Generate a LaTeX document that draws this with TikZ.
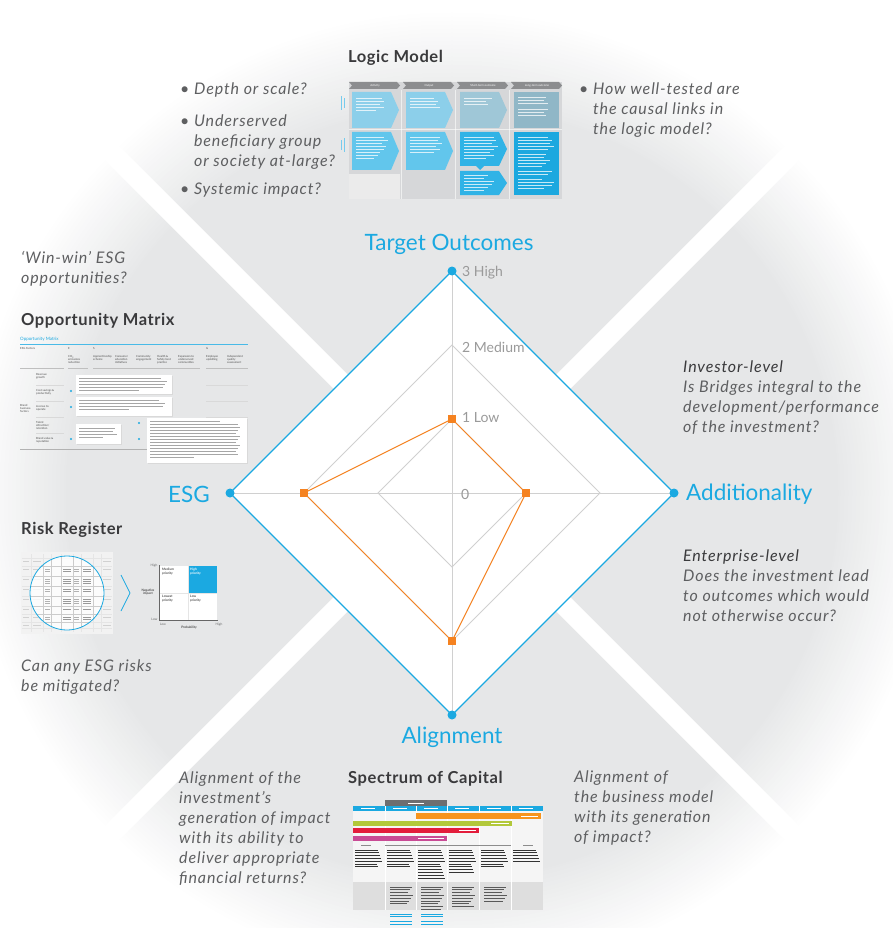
\documentclass[tikz,border=0pt]{standalone}
\usepackage{fontspec}
\setmainfont{Lato}
\newfontfamily\qfont[LetterSpace=5.5]{Lato}
\newfontfamily\hfont[LetterSpace=3.5]{Lato}
\usetikzlibrary{calc}
\definecolor{bggray}{HTML}{E6E7E8}
\definecolor{cyanb}{HTML}{1BA9E1}
\definecolor{orng}{HTML}{F58220}
\definecolor{gridg}{HTML}{D0D0D0}
\definecolor{qtext}{HTML}{5E5F61}
\definecolor{headtxt}{HTML}{3A3A3C}
\definecolor{scaletxt}{HTML}{9A9A9A}
\definecolor{lmbg}{HTML}{D6D7D9}
\definecolor{lmhead}{HTML}{8C8D8F}
\definecolor{lmra}{HTML}{8CCFEA}
\definecolor{lmrc}{HTML}{9FC7D7}
\definecolor{lmrd}{HTML}{90B7C7}
\definecolor{lmsa}{HTML}{62C6EC}
\definecolor{lmsc}{HTML}{30B3E6}
\definecolor{lmsd}{HTML}{1CA8DF}
\definecolor{spor}{HTML}{F7941D}
\definecolor{spgr}{HTML}{B2C83A}
\definecolor{spred}{HTML}{E31D3C}
\definecolor{spmag}{HTML}{C94B95}
\definecolor{spdark}{HTML}{6D6E70}
\begin{document}
\begin{tikzpicture}[x=1pt,y=-1pt,
  every node/.style={inner sep=0pt},
  question/.style={anchor=north west, align=left, font=\fontsize{16}{20}\qfont\itshape, text=qtext},
  heading/.style={anchor=west, font=\fontsize{16.5}{18}\hfont\bfseries, text=headtxt},
  axislabel/.style={font=\fontsize{22.5}{26}\selectfont, text=cyanb},
  scalelabel/.style={anchor=west, font=\fontsize{14}{16}\selectfont, text=scaletxt},
  gridline/.style={draw=gridg, line width=1pt},
  oline/.style={draw=orng, line width=1pt},
  bline/.style={draw=cyanb, line width=1.2pt},
  osq/.style={rectangle, fill=orng, minimum size=8.5pt},
  bdot/.style={circle, fill=cyanb, minimum size=9pt},
  tiny/.style={anchor=north west, align=left, font=\fontsize{2.8}{3.2}\selectfont, text=black!70},
  lmtxt/.style={white, line width=0.55pt, opacity=0.75},
  omtxt/.style={black!35, line width=0.45pt},
  sptxt/.style={black!80, line width=0.6pt},
  shadowbox/.style={fill=black!15},
]
\useasboundingbox (0,0) rectangle (892,928);
\fill[white] (0,0) rectangle (892,928);
% soft grey disc
\foreach \k in {0,...,24}{
  \pgfmathtruncatemacro\pc{4*\k}
  \pgfmathsetmacro\rr{484-4*\k}
  \fill[bggray!\pc!white] (452,493) circle (\rr pt);
}
\fill[bggray] (452,493) circle (386pt);
% white X stripes
\draw[white, line width=20pt] (-68,-27) -- (972,1013);
\draw[white, line width=20pt] (972,-27) -- (-68,1013);

% ---------------- radar ----------------
\coordinate (vT) at (452,271);
\coordinate (vR) at (674,493);
\coordinate (vB) at (452,715);
\coordinate (vL) at (230,493);
\coordinate (aT) at (452,419); \coordinate (aR) at (526,493);
\coordinate (aB) at (452,567); \coordinate (aL) at (378,493);
\coordinate (bT) at (452,345); \coordinate (bR) at (600,493);
\coordinate (bB) at (452,641); \coordinate (bL) at (304,493);
\fill[white] (vT) -- (vR) -- (vB) -- (vL) -- cycle;
\draw[gridline] (aT) -- (aR) -- (aB) -- (aL) -- cycle;
\draw[gridline] (bT) -- (bR) -- (bB) -- (bL) -- cycle;
\draw[gridline] (vT) -- (vB);
\draw[gridline] (vL) -- (vR);
\draw[oline] (aT) -- (aR) -- (bB) -- (bL) -- cycle;
\draw[bline] (vT) -- (vR) -- (vB) -- (vL) -- cycle;
\node[osq] (dT) at (aT) {};
\node[osq] (dR) at (aR) {};
\node[osq] (dB) at (bB) {};
\node[osq] (dL) at (bL) {};
\node[bdot] (nT) at (vT) {};
\node[bdot] (nR) at (vR) {};
\node[bdot] (nB) at (vB) {};
\node[bdot] (nL) at (vL) {};

\node[axislabel] (lT) at (449,244) {Target Outcomes};
\node[axislabel, anchor=east] (lL) at (210,494) {ESG};
\node[axislabel, anchor=west] (lR) at (686,494) {Additionality};
\node[axislabel] (lB) at (452,737) {Alignment};

\node[scalelabel] (s3) at (462,273) {3 High};
\node[scalelabel] (s2) at (462,347) {2 Medium};
\node[scalelabel] (s1) at (462,418) {1 Low};
\node[scalelabel] (s0) at (461,494) {0};

% ---------------- headings ----------------
\node[heading] (hLM) at (348,58) {Logic Model};
\node[heading] (hOM) at (21,321) {Opportunity Matrix};
\node[heading] (hRR) at (21,530) {Risk Register};
\node[heading] (hSC) at (348,779) {Spectrum of Capital};

% ---------------- questions ----------------
\node[question] (q1) at (180,83) {\textbullet\ Depth or scale?};
\node[question] (q2) at (180,115) {\textbullet\ Underserved\\\hphantom{\textbullet\ }beneficiary group\\\hphantom{\textbullet\ }or society at-large?};
\node[question] (q3) at (180,183) {\textbullet\ Systemic impact?};
\node[question] (q4) at (579,83) {\textbullet\ How well-tested are\\\hphantom{\textbullet\ }the causal links in\\\hphantom{\textbullet\ }the logic model?};
\node[question] (q5) at (21,251) {‘Win-win’ ESG\\opportunities?};
\node[question] (q6) at (21,660) {Can any ESG risks\\be mitigated?};
\node[question] (q7) at (683,361) {{\color{headtxt}Investor-level}\\Is Bridges integral to the\\development/performance\\of the investment?};
\node[question] (q8) at (683,550) {{\color{headtxt}Enterprise-level}\\Does the investment lead\\to outcomes which would\\not otherwise occur?};
\node[question] (q9) at (179,772) {Alignment of the\\investment’s\\generation of impact\\with its ability to\\deliver appropriate\\financial returns?};
\node[question] (q10) at (574,771) {Alignment of\\the business model\\with its generation\\of impact?};

% ---------------- Logic Model thumbnail ----------------
\begin{scope}[shift={(349,82)}]
  \fill[lmbg] (0,0) rectangle (213,117);
  \fill[black!8] (0,92) rectangle (51,117);
  \foreach \xx in {52.5,106.5,160.5} \draw[white, opacity=0.6, line width=1pt] (\xx,8) -- (\xx,117);
  \draw[white, opacity=0.6, line width=1pt] (0,48) -- (213,48);
  \foreach \xx/\tt in {0/Activity,54/Output,108/Short-term outcome,162/Long-term outcome}{
    \fill[lmhead] (\xx,0) -- ++(48,0) -- ++(3,3.5) -- ++(-3,3.5) -- ++(-48,0) -- ++(3,-3.5) -- cycle;
    \node[font=\fontsize{2.8}{3}\selectfont, text=white] at ({\xx+26},3.5) {\tt};
  }
  \foreach \xx/\cc in {0/lmra,54/lmra,108/lmrc}{
    \fill[\cc] ({\xx+3},10) -- ({\xx+42},10) -- ({\xx+50},28) -- ({\xx+42},46) -- ({\xx+3},46) -- cycle;
  }
  \fill[lmrd] (165,10) rectangle (210,46);
  \foreach \xx in {0,54}{
    \fill[lmsa] ({\xx+3},50) -- ({\xx+42},50) -- ({\xx+50},69) -- ({\xx+42},88) -- ({\xx+3},88) -- cycle;
  }
  \fill[lmsc] (111,50) -- (150,50) -- (158,67) -- (150,84) -- (111,84) -- cycle;
  \fill[lmsc] (127,84) -- (135,84) -- (131,88) -- cycle;
  \fill[lmsc] (111,89) -- (150,89) -- (158,101) -- (150,113) -- (111,113) -- cycle;
  \fill[lmsd] (165,50) rectangle (210,113);
  % text strokes
  \foreach \yy/\ll in {16/26,19/28,22/24,25/28,28/20}{\draw[lmtxt] (7,\yy) -- ++(\ll,0);}
  \foreach \yy/\ll in {16/24,19/28,22/26,25/30}{\draw[lmtxt] (61,\yy) -- ++(\ll,0);}
  \foreach \yy/\ll in {16/28,19/22,22/24}{\draw[lmtxt] (115,\yy) -- ++(\ll,0);}
  \foreach \yy/\ll in {15/28,18/26,21/30,27/30,30/26,33/28}{\draw[lmtxt] (169,\yy) -- ++(\ll,0);}
  \foreach \yy/\ll in {55/28,58/32,61/26,64/30,67/28,70/24,73/22,76/18}{\draw[lmtxt] (7,\yy) -- ++(\ll,0);}
  \foreach \yy/\ll in {55/30,58/28,61/32,64/26,67/30,70/24}{\draw[lmtxt] (61,\yy) -- ++(\ll,0);}
  \foreach \yy/\ll in {55/30,58/32,61/28,64/34,67/30,70/26,73/30,76/22}{\draw[lmtxt] (115,\yy) -- ++(\ll,0);}
  \foreach \yy/\ll in {93/24,96/20,99/30,102/28,105/24,108/20}{\draw[lmtxt] (115,\yy) -- ++(\ll,0);}
  \foreach \yy/\ll in {55/30,58/34,61/32,64/36,67/30,72/28,75/26,78/32,81/28,84/24,89/34,92/30,97/24,100/36,103/34,106/26}{\draw[lmtxt] (169,\yy) -- ++(\ll,0);}
  \fill[cyanb!60] (-8,14) rectangle (-6.8,28);
  \fill[cyanb!60] (-5.5,16) rectangle (-4.3,26);
  \fill[cyanb!60] (-8,58) rectangle (-6.8,68);
  \fill[cyanb!60] (-5.5,56) rectangle (-4.3,70);
\end{scope}

% ---------------- Opportunity Matrix thumbnail ----------------
\begin{scope}[shift={(20,336)}]
  \node[anchor=west, font=\fontsize{4.5}{5}\selectfont, text=cyanb] (omt) at (0,3.5) {Opportunity Matrix};
  \draw[cyanb!80, line width=0.6pt] (0,8) -- (228,8);
  \node[tiny] at (0,11) {ESG Factors};
  \node[tiny] at (48,11) {E};
  \node[tiny] at (73,11) {S};
  \node[tiny] at (186,11) {G};
  \node[tiny] at (48,19) {CO\textsubscript{2}\\emissions\\reduction};
  \node[tiny] at (73,19) {Apprenticeship\\scheme};
  \node[tiny] at (95,19) {Consumer\\education\\initiatives};
  \node[tiny] at (116,19) {Community\\engagement};
  \node[tiny] at (137,19) {Health \&\\Safety best\\practice};
  \node[tiny] at (158,19) {Expansion to\\underserved\\communities};
  \node[tiny] at (186,19) {Employee\\upskilling};
  \node[tiny] at (207,19) {Independent\\quality\\assessment};
  \foreach \aa/\bb in {0/44,48/68,73/180,186/228} \draw[black!25, line width=0.5pt] (\aa,32) -- (\bb,32);
  \node[tiny] at (16,37) {Revenue\\growth};
  \node[tiny] at (16,53) {Cost savings \&\\productivity};
  \node[tiny] at (16,69) {License to\\operate};
  \node[tiny] at (16,85) {Talent\\attraction/\\retention};
  \node[tiny] at (16,101) {Brand value \&\\reputation};
  \node[tiny] at (0,68) {Brand\\business\\factors};
  \foreach \yy in {49,65,81,97}{
    \draw[black!15, line width=0.4pt] (16,\yy) -- (44,\yy);
    \draw[black!15, line width=0.4pt] (186,\yy) -- (228,\yy);
  }
  \draw[black!30, line width=0.5pt] (0,113) -- (228,113);
  \foreach \pp in {(51,55),(51,71),(119,87),(51,103),(119,103)} \fill[cyanb] \pp circle (1.2pt);
  % note boxes
  \fill[shadowbox] (57,40) rectangle (153,59);
  \fill[white] (56,39) rectangle (152,58);
  \foreach \yy/\ll in {42/82,45/88,48/86,51/84,54/60}{\draw[omtxt] (59,\yy) -- ++(\ll,0);}
  \fill[shadowbox] (57,62) rectangle (153,81);
  \fill[white] (56,61) rectangle (152,80);
  \foreach \yy/\ll in {64/80,67/86,70/84,73/50}{\draw[omtxt] (59,\yy) -- ++(\ll,0);}
  \fill[shadowbox] (57,89) rectangle (102,109);
  \fill[white] (56,88) rectangle (101,108);
  \foreach \yy/\ll in {92/36,95/34,98/38,101/24}{\draw[omtxt] (59,\yy) -- ++(\ll,0);}
  \fill[shadowbox] (128,83) rectangle (228,128);
  \fill[white] (127,82) rectangle (227,127);
  \foreach \yy/\ll in {85/70,88/88,91/90,94/88,97/86,100/90,103/88,106/86,109/90,112/88,115/86,118/88,121/44}{\draw[omtxt] (130,\yy) -- ++(\ll,0);}
\end{scope}

% ---------------- Risk Register thumbnail ----------------
\begin{scope}[shift={(21,552)}]
  \fill[black!5] (0,0) rectangle (92,82);
  \foreach \xx in {10,22,30,40,52,60,72,80} \draw[black!10, line width=0.35pt] (\xx,2) -- (\xx,80);
  \foreach \yy in {6,14,24,34,44,54,62,70,76} \draw[black!10, line width=0.35pt] (1,\yy) -- (91,\yy);
  \foreach \yy in {9,17,27,37,47,57,65,73}{
    \draw[black!18, line width=0.4pt] (2,\yy) -- (8,\yy);
    \draw[black!18, line width=0.4pt] (12,\yy) -- (20,\yy);
    \draw[black!18, line width=0.4pt] (82,\yy) -- (90,\yy);
  }
  \fill[white, opacity=0.8] (46,41) circle (37pt);
  \begin{scope}
    \clip (46,41) circle (37pt);
    \foreach \xx in {22,30,40,52,60,72} \draw[black!20, line width=0.35pt] (\xx,4) -- (\xx,80);
    \foreach \yy in {14,24,34,44,54,62,70} \draw[black!20, line width=0.35pt] (1,\yy) -- (91,\yy);
    \foreach \yy in {17,19,27,29,31,37,39,47,49,51,57,65,67}{
      \draw[black!40, line width=0.45pt] (42,\yy) -- (50,\yy);
      \draw[black!40, line width=0.45pt] (62,\yy) -- (70,\yy);
      \draw[black!30, line width=0.45pt] (24,\yy) -- (29,\yy);
      \draw[black!30, line width=0.45pt] (53,\yy) -- (58,\yy);
    }
  \end{scope}
  \draw[cyanb, line width=0.8pt] (46,41) circle (37pt);
  \coordinate (chA) at (100,23);
  \coordinate (chB) at (109,41);
  \coordinate (chC) at (100,59);
  \draw[cyanb, line width=0.7pt] (chA) -- (chB) -- (chC);
\end{scope}
% risk matrix
\fill[white] (160,566) rectangle (217,620);
\fill[cyanb] (188.5,566) rectangle (217,592.5);
\draw[black!10, line width=0.4pt] (188.2,566) -- (188.2,620);
\draw[black!10, line width=0.4pt] (160,592.8) -- (217,592.8);
\coordinate (axO) at (159.5,620.5);
\coordinate (axY) at (159.5,565);
\coordinate (axX) at (218,620.5);
\draw[black!60, line width=0.5pt] (axY) -- (axO) -- (axX);
\node[tiny, font=\fontsize{3.2}{3.8}\selectfont\bfseries] (rm1) at (162,568) {Medium\\priority};
\node[tiny, font=\fontsize{3.2}{3.8}\selectfont\bfseries, text=white] (rm2) at (190,568) {High\\priority};
\node[tiny, font=\fontsize{3.2}{3.8}\selectfont\bfseries] (rm3) at (162,595) {Lowest\\priority};
\node[tiny, font=\fontsize{3.2}{3.8}\selectfont\bfseries] (rm4) at (190,595) {Low\\priority};
\node[anchor=east, font=\fontsize{3.2}{3.8}\selectfont, text=black!60] (rmh) at (157.5,566) {High};
\node[anchor=east, font=\fontsize{3.2}{3.8}\selectfont, text=black!60] (rml) at (157.5,619) {Low};
\node[align=center, font=\fontsize{3.2}{3.8}\selectfont\bfseries, text=black!70] (rmn) at (148,592) {Negative\\impact};
\node[font=\fontsize{3.2}{3.8}\selectfont, text=black!60] (rmx1) at (163,624.5) {Low};
\node[font=\fontsize{3.2}{3.8}\selectfont\bfseries, text=black!70] (rmx2) at (189,628) {Probability};
\node[font=\fontsize{3.2}{3.8}\selectfont, text=black!60] (rmx3) at (219,624.5) {High};

% ---------------- Spectrum of Capital thumbnail ----------------
\begin{scope}[shift={(353,800)}]
  \fill[black!4] (0,11) rectangle (190,82);
  \fill[black!13] (0,82) rectangle (190,110);
  \foreach \xx in {32,63,94,126,158} \draw[white, line width=0.8pt] (\xx,11) -- (\xx,110);
  \fill[spdark] (32,0) rectangle (94,6);
  \draw[white, line width=0.4pt] (55,3) -- (71,3);
  \fill[cyanb] (0,6) rectangle (190,11);
  \foreach \xx in {32,63,94,126,158} \draw[white, line width=0.5pt] (\xx,6) -- (\xx,11);
  \foreach \xx in {8,40,71,102,134,166} \draw[white, line width=0.4pt] (\xx,8.5) -- ++(14,0);
  \fill[spor] (63,13) rectangle (188,19);
  \draw[white, line width=0.4pt] (168,16) -- (185,16);
  \fill[spgr] (0,21) rectangle (159,26);
  \draw[white, line width=0.4pt] (138,23.5) -- (156,23.5);
  \fill[spred] (0,28) rectangle (126,33);
  \draw[white, line width=0.4pt] (106,30.5) -- (123,30.5);
  \fill[spmag] (0,36) rectangle (94,41);
  \draw[white, line width=0.4pt] (65,38.5) -- (91,38.5);
  \draw[black!45, line width=0.35pt] (32,45) -- (158,45);
  \foreach \xx in {8,50,96,170} \draw[black!45, line width=0.45pt] (\xx,45) -- ++(10,0);
  % dense text columns
  \foreach \xx/\nn in {2/7,34/7,65/11,96/9,128/7,160/5}{
    \foreach \i in {1,...,\nn}{
      \pgfmathsetmacro\ln{22+mod(\i*7,6)}
      \draw[sptxt] (\xx,{47+2.8*\i}) -- ++(\ln,0);
    }
  }
  \foreach \xx/\nn in {34/7,65/9,96/8,128/6}{
    \foreach \i in {1,...,\nn}{
      \pgfmathsetmacro\ln{17+mod(\i*5,7)}
      \draw[sptxt, black!65] ({\xx+3},{84+2.8*\i}) -- ++(\ln,0);
    }
  }
  \foreach \xx in {34,65}{
    \foreach \yy in {114,116.5,121.5,124} \draw[cyanb, line width=0.6pt] ({\xx+3},\yy) -- ++(22,0);
  }
\end{scope}
\end{tikzpicture}
\end{document}
